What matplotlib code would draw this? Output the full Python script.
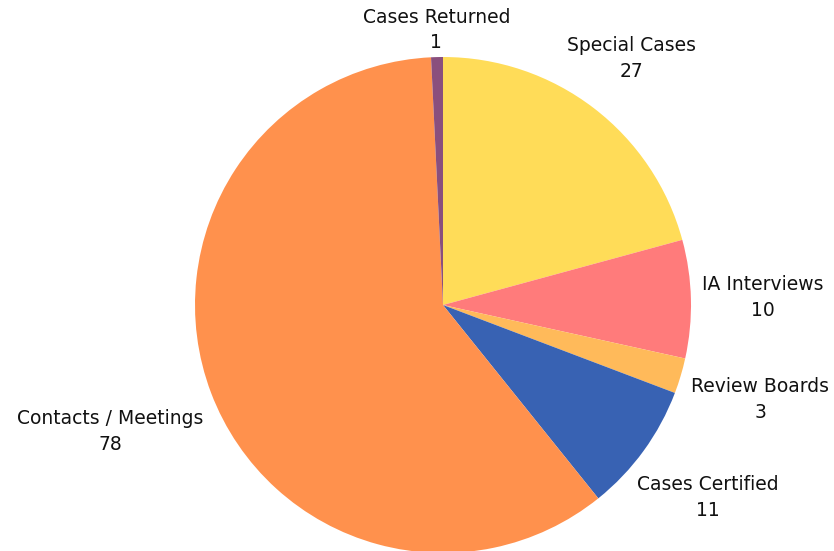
import matplotlib.pyplot as plt
import numpy as np

# Data
categories = ['Special Cases', 'IA Interviews', 'Review Boards',
              'Cases Certified', 'Contacts / Meetings', 'Cases Returned']
values = [27, 10, 3, 11, 78, 1]
colors = ['#FFDC58', '#FF7B7B', '#FFBA5A', '#3862B3', '#FF914D', '#8A4F7D']

# label distance from centre (pixels), per slice
label_dist = [310, 320, 331, 327, 356, 275]

plt.rcParams['font.family'] = ['DejaVu Sans']

fig = plt.figure(figsize=(8.34, 5.51), dpi=100)
ax = fig.add_axes([0, 0, 1, 1])

center = (443, 246)
radius = 248
wedges, _ = ax.pie(values, colors=colors, startangle=90, counterclock=False,
                   center=center, radius=radius, frame=True,
                   wedgeprops=dict(linewidth=0))
ax.set_xlim(0, 834)
ax.set_ylim(0, 551)
ax.axis('off')

for w, cat, val, d in zip(wedges, categories, values, label_dist):
    ang = np.deg2rad((w.theta1 + w.theta2) / 2)
    x = center[0] + d * np.cos(ang)
    y = center[1] + d * np.sin(ang)
    ax.text(x, y, f'{cat}\n{val}', ha='center', va='center',
            fontsize=13.5, color='#111111', linespacing=1.45)

plt.savefig('out.png', dpi=100)
